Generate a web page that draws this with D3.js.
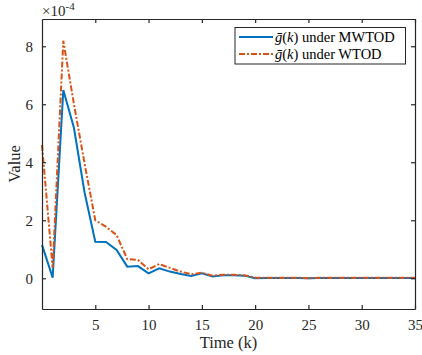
<!DOCTYPE html>
<html><head><meta charset="utf-8">
<script src="https://cdn.jsdelivr.net/npm/d3@7"></script>
<style>body{margin:0;background:#fff}svg{display:block}</style>
</head><body>
<svg id="c" width="422" height="355"></svg>
<script>
const k = d3.range(0, 36);
const mwtod = [1.15,0.02,6.49,5.18,2.95,1.26,1.25,0.98,0.40,0.42,0.17,0.34,0.23,0.15,0.08,0.17,0.06,0.10,0.10,0.09,0.00,0.01,0.01,0.01,0.01,0.00,0.01,0.01,0.01,0.01,0.01,0.01,0.01,0.01,0.01,0.01];
const wtod  = [4.60,0.36,8.19,6.00,3.95,2.00,1.78,1.49,0.66,0.63,0.31,0.49,0.36,0.23,0.14,0.19,0.09,0.12,0.12,0.10,0.02,0.02,0.02,0.02,0.02,0.00,0.02,0.02,0.02,0.02,0.02,0.02,0.02,0.02,0.02,0.02];
const xTicks = [5,10,15,20,25,30,35];
const yTicks = [0,2,4,6,8];
const seriesNames = ["MWTOD","WTOD"];

const FONT = "Liberation Serif";
const svg = d3.select("#c");
const L=42,R=415,T=19,B=309;
const x = d3.scaleLinear().domain([0,35]).range([L,R]);
const y = d3.scaleLinear().domain([-1.06,8.94]).range([B,T]);
const axc = "#262626";

const line = d3.line().x((d,i)=>x(k[i])).y(d=>y(d));
const g = svg.append("g");
g.append("path").datum(mwtod).attr("d",line).attr("fill","none").attr("stroke","#0072BD").attr("stroke-width",2);
g.append("path").datum(wtod).attr("d",line).attr("fill","none").attr("stroke","#D95319").attr("stroke-width",2).attr("stroke-dasharray","6,2,2,2");

// axes
const xb = svg.append("g").attr("transform",`translate(0,${B})`).call(d3.axisBottom(x).tickValues(xTicks).tickSizeInner(-4).tickSizeOuter(0).tickPadding(10));
const xt = svg.append("g").attr("transform",`translate(0,${T})`).call(d3.axisTop(x).tickValues(xTicks).tickSizeInner(-4).tickSizeOuter(0).tickFormat(""));
const yl = svg.append("g").attr("transform",`translate(${L},0)`).call(d3.axisLeft(y).tickValues(yTicks).tickSizeInner(-4).tickSizeOuter(0).tickPadding(9));
const yr = svg.append("g").attr("transform",`translate(${R},0)`).call(d3.axisRight(y).tickValues(yTicks).tickSizeInner(-4).tickSizeOuter(0).tickFormat(""));
[xb,xt,yl,yr].forEach(a=>{
  a.attr("font-family",FONT).attr("font-size",15);
  a.selectAll("path").attr("stroke",axc).attr("stroke-width",1.2);
  a.selectAll("line").attr("stroke",axc).attr("stroke-width",1.2);
  a.selectAll("text").attr("fill",axc).attr("font-family",FONT).attr("font-size",15);
});

svg.append("text").attr("x",(L+R)/2).attr("y",348).attr("text-anchor","middle").attr("fill",axc)
  .attr("font-family",FONT).attr("font-size",16.5).text("Time (k)");
svg.append("text").attr("transform",`translate(20,${(T+B)/2}) rotate(-90)`).attr("text-anchor","middle").attr("fill",axc)
  .attr("font-family",FONT).attr("font-size",16.5).text("Value");
const ex = svg.append("text").attr("x",42).attr("y",16).attr("fill",axc).attr("font-family",FONT).attr("font-size",15);
ex.append("tspan").text("×10");
ex.append("tspan").attr("dy",-6).attr("font-size",11).text("-4");

// legend
const lg = svg.append("g");
lg.append("rect").attr("x",235).attr("y",27.5).attr("width",170.5).attr("height",36.5).attr("fill","#fff").attr("stroke",axc).attr("stroke-width",1);
const cols=["#0072BD","#D95319"], dashes=[null,"6,2,2,2"];
seriesNames.forEach((n,i)=>{
  const yy = 37+i*17;
  lg.append("line").attr("x1",239).attr("x2",273).attr("y1",yy).attr("y2",yy).attr("stroke",cols[i]).attr("stroke-width",2).attr("stroke-dasharray",dashes[i]);
  const t = lg.append("text").attr("x",275).attr("y",yy+4.5).attr("fill","#000").attr("font-family",FONT).attr("font-size",14.5);
  t.append("tspan").attr("font-style","italic").text("ḡ");
  t.append("tspan").text("(");
  t.append("tspan").attr("font-style","italic").text("k");
  t.append("tspan").text(") under " + n);
});
</script>
</body></html>
